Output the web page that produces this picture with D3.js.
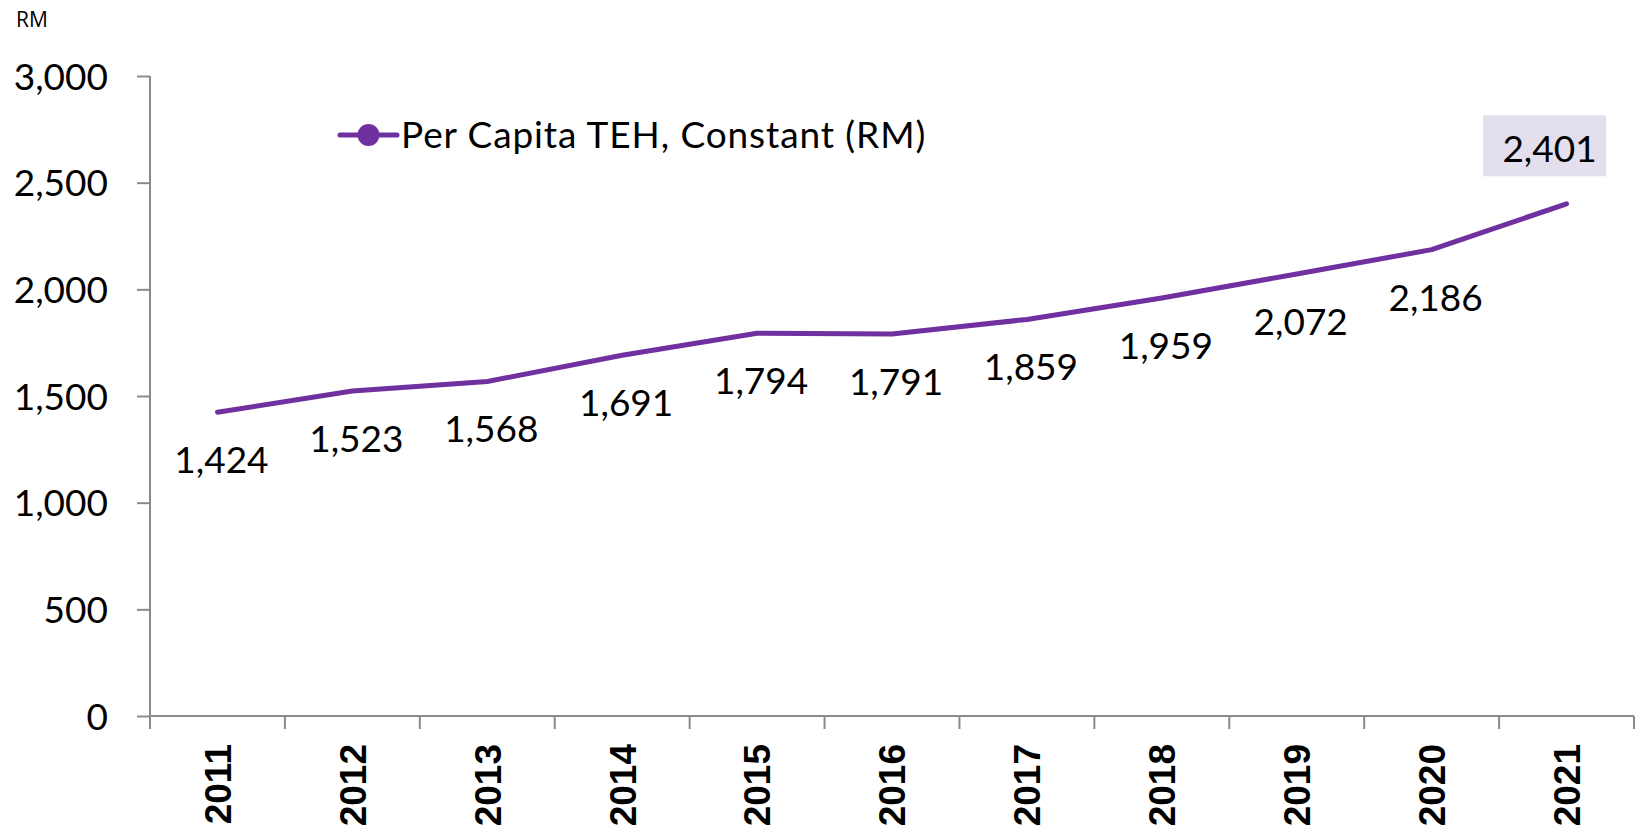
<!DOCTYPE html>
<html>
<head>
<meta charset="utf-8">
<script src="https://cdn.jsdelivr.net/npm/d3@7"></script>
<style>
  html, body { margin: 0; padding: 0; background: #fff; }
  svg { display: block; }
  .num { font-family: Lato, Carlito, Calibri, sans-serif; fill: #000; }
  .yr { font-family: "Liberation Sans", Arial, sans-serif; font-weight: bold; fill: #000; }
</style>
</head>
<body>
<div id="chart"></div>
<script>
// data
const years = ["2011", "2012", "2013", "2014", "2015", "2016", "2017", "2018", "2019", "2020", "2021"];
const perCapita = [1424, 1523, 1568, 1691, 1794, 1791, 1859, 1959, 2072, 2186, 2401];
const yTicks = [0, 500, 1000, 1500, 2000, 2500, 3000];
const seriesName = "Per Capita TEH, Constant (RM)";

const width = 1636, height = 831;
const plotLeft = 150, plotRight = 1634, plotTop = 76, plotBottom = 716;
const purple = "#7030a0";
const axisGrey = "#8a8a8a";

const svg = d3.select("#chart").append("svg")
    .attr("width", width)
    .attr("height", height);

const x = d3.scaleBand().domain(years).range([plotLeft, plotRight]).padding(0);
const y = d3.scaleLinear().domain([0, 3000]).range([plotBottom, plotTop]);
const cx = d => x(d) + x.bandwidth() / 2;

// unit label
svg.append("text")
    .attr("x", 16).attr("y", 27)
    .attr("font-family", "'Open Sans', sans-serif")
    .attr("font-size", 21)
    .text("RM");

// y axis
const yAxis = svg.append("g")
    .attr("transform", `translate(${plotLeft},0)`)
    .call(d3.axisLeft(y).tickValues(yTicks).tickSize(13).tickPadding(29).tickFormat(d3.format(",")));
yAxis.selectAll("line, path").attr("stroke", axisGrey).attr("stroke-width", 2);
yAxis.select("path").attr("d", `M0,${plotTop}V${plotBottom}`);
yAxis.selectAll("text")
    .attr("class", "num")
    .attr("font-size", 37)
    .attr("dy", "0.36em");

// x axis: line plus ticks on the band edges
const xg = svg.append("g");
xg.append("line")
    .attr("x1", plotLeft).attr("x2", plotRight)
    .attr("y1", plotBottom).attr("y2", plotBottom)
    .attr("stroke", axisGrey).attr("stroke-width", 2);
const edges = years.map(d => x(d)).concat([plotRight]);
xg.selectAll(".xt")
    .data(edges)
    .enter().append("line")
    .attr("x1", d => d).attr("x2", d => d)
    .attr("y1", plotBottom).attr("y2", plotBottom + 13)
    .attr("stroke", axisGrey).attr("stroke-width", 2);

xg.selectAll(".yr")
    .data(years)
    .enter().append("text")
    .attr("class", "yr")
    .attr("font-size", 37)
    .attr("text-anchor", "end")
    .attr("dy", "0.36em")
    .attr("transform", d => `translate(${cx(d)},744) rotate(-90)`)
    .text(d => d);

// the line
const line = d3.line()
    .x((d, i) => cx(years[i]))
    .y(d => y(d));

svg.append("path")
    .datum(perCapita)
    .attr("fill", "none")
    .attr("stroke", purple)
    .attr("stroke-width", 5)
    .attr("stroke-linecap", "round")
    .attr("stroke-linejoin", "round")
    .attr("d", line);

// data labels below the points, last one boxed above
const fmt = d3.format(",");
const last = perCapita.length - 1;
svg.selectAll(".lbl")
    .data(perCapita.slice(0, last))
    .enter().append("text")
    .attr("class", "num")
    .attr("font-size", 37)
    .attr("text-anchor", "middle")
    .attr("x", (d, i) => cx(years[i]) + 4)
    .attr("y", d => y(d) + 61)
    .text(d => fmt(d));

const lx = cx(years[last]) - 22, ly = y(perCapita[last]) - 58;
svg.append("rect")
    .attr("x", lx - 61.5).attr("y", ly - 30.5)
    .attr("width", 123).attr("height", 61)
    .attr("fill", "#e4dfec");
svg.append("text")
    .attr("class", "num")
    .attr("font-size", 37)
    .attr("text-anchor", "middle")
    .attr("x", lx + 5)
    .attr("y", ly + 16)
    .text(fmt(perCapita[last]));

// legend
const lg = svg.append("g").attr("transform", "translate(340,135)");
lg.append("line")
    .attr("x1", 0).attr("x2", 57)
    .attr("stroke", purple).attr("stroke-width", 5).attr("stroke-linecap", "round");
lg.append("circle")
    .attr("cx", 28.5).attr("r", 11)
    .attr("fill", purple);
lg.append("text")
    .attr("class", "num")
    .attr("font-size", 37)
    .attr("letter-spacing", 0.9)
    .attr("x", 61)
    .attr("y", 13)
    .text(seriesName);
</script>
</body>
</html>
